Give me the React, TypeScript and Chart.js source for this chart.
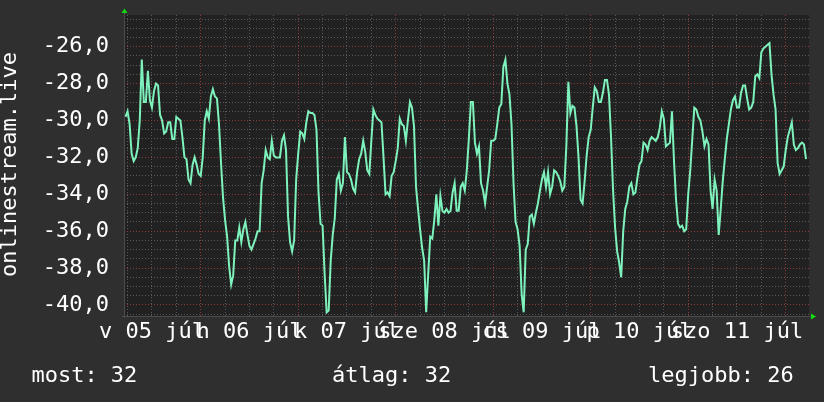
import React, { useEffect, useRef } from "react";
import { Chart, registerables } from "chart.js";

Chart.register(...registerables);

// Samples every 30 minutes, hours counted from 05 júl 00:00
const startHour = 5.5;
const stepHours = 0.5;
const values = [
  -29.8, -29.5, -30.2, -31.8, -32.2, -32.0, -31.5, -30.0, -26.7, -29.0,
  -29.0, -27.3, -28.9, -29.3, -28.4, -28.0, -28.1, -29.7, -30.0, -30.7,
  -30.6, -30.1, -30.1, -31.0, -31.0, -29.8, -29.9, -30.0, -30.9, -32.0,
  -32.1, -33.2, -33.4, -32.4, -32.0, -32.4, -32.9, -33.0, -32.0, -30.0,
  -29.5, -29.9, -28.7, -28.3, -28.7, -28.8, -30.2, -32.3, -34.2, -35.4,
  -36.3, -37.9, -38.9, -38.4, -36.5, -36.5, -35.8, -36.6, -35.9, -35.5,
  -36.2, -36.8, -37.0, -36.7, -36.4, -36.0, -36.0, -33.4, -32.7, -31.6,
  -32.0, -32.1, -31.1, -31.9, -32.0, -32.0, -32.0, -31.1, -30.8, -31.6,
  -35.2, -36.6, -37.1, -36.5, -33.2, -31.8, -30.6, -30.7, -31.0, -30.1,
  -29.5, -29.6, -29.6, -29.7, -30.5, -33.9, -35.6, -35.7, -38.3, -40.4,
  -40.3, -37.6, -36.2, -35.3, -33.2, -32.9, -33.8, -33.4, -30.9, -32.8,
  -32.9, -33.2, -33.7, -33.9, -32.8, -32.1, -31.8, -31.1, -31.7, -32.7,
  -32.9, -31.1, -29.4, -29.7, -29.9, -30.0, -30.1, -32.0, -34.0, -33.9,
  -34.1, -33.0, -32.8, -32.2, -31.5, -29.9, -30.2, -30.3, -31.1, -30.0,
  -29.0, -29.3, -30.3, -33.6, -34.8, -35.9, -36.9, -37.6, -40.4, -38.3,
  -36.3, -36.4, -35.4, -34.0, -35.7, -34.1, -34.9, -35.0, -34.8, -35.0,
  -34.9, -33.9, -33.4, -34.9, -34.9, -33.6, -33.4, -33.8, -32.7, -31.0,
  -29.0, -29.0, -31.2, -31.8, -31.4, -33.4, -33.8, -34.5, -33.6, -32.7,
  -31.1, -31.1, -31.0, -30.2, -29.3, -29.1, -27.1, -26.7, -28.0, -28.6,
  -30.2, -33.4, -35.5, -35.9, -36.8, -39.4, -40.4, -37.0, -36.7, -35.2,
  -35.1, -35.6, -35.0, -34.5, -33.8, -33.2, -32.8, -33.6, -32.8, -34.0,
  -33.6, -32.7, -32.8, -33.0, -33.3, -33.8, -33.6, -31.4, -27.9, -29.6,
  -29.2, -29.3, -30.3, -32.0, -34.3, -34.5, -33.3, -31.9, -30.9, -30.5,
  -29.3, -28.2, -28.4, -29.0, -29.0, -28.5, -27.8, -27.8, -28.6, -30.9,
  -33.8, -35.8, -37.1, -37.7, -38.5, -36.0, -34.8, -34.4, -33.6, -33.4,
  -34.0, -33.9, -33.1, -32.4, -32.2, -31.2, -31.3, -31.6, -31.1, -30.9,
  -31.0, -31.1, -30.9, -30.4, -29.5, -29.9, -31.4, -31.3, -31.2, -29.5,
  -32.2, -34.3, -35.6, -35.8, -35.7, -36.0, -35.9, -34.0, -32.7, -31.0,
  -29.3, -29.4, -29.8, -30.0, -30.6, -31.4, -31.0, -31.3, -33.8, -34.8,
  -33.2, -33.8, -36.2, -34.8, -33.3, -32.1, -31.0, -30.2, -29.4, -28.9,
  -28.7, -29.3, -29.3, -28.5, -28.1, -28.1, -28.8, -29.4, -29.3, -29.0,
  -27.6, -27.5, -27.7, -26.3, -26.1, -26.0, -25.9, -25.8, -27.5, -28.6,
  -29.4, -32.3, -32.9, -32.7, -32.5, -31.6, -30.9, -30.5, -30.1, -31.3,
  -31.6, -31.5, -31.3, -31.2, -31.3, -32.1,
];

const dayLabels = ["v 05 júl", "h 06 júl", "k 07 júl", "sze 08 júl", "cs 09 júl", "p 10 júl", "szo 11 júl"];
const dayLabelHours = [12, 36, 60, 84, 108, 132, 156];
const xGridHours = [6, 12, 18, 24, 30, 36, 42, 48, 54, 60, 66, 72, 78, 84, 90, 96, 102, 108, 114, 120, 126, 132, 138, 144, 150, 156, 162, 168];
const xMajorHours = [24, 48, 72, 96, 120, 144, 168];

const yMajorTicks = [-40, -38, -36, -34, -32, -30, -28, -26];
const yTickLabels = ["-40,0", "-38,0", "-36,0", "-34,0", "-32,0", "-30,0", "-28,0", "-26,0"];
const yMinorStep = 0.5;

const axisTitle = "onlinestream.live";
const legendItems = ["most: 32", "átlag: 32", "legjobb: 26"];

const X_MIN = 5.12;
const X_MAX = 173.73;
const Y_MIN = -40.6;
const Y_MAX = -24.28;

const FONT = '"DejaVu Sans Mono", monospace';
const OUTER_BG = "#2f2f2f";
const PLOT_BG = "#212121";
const LINE = "#7ef2bc";
const GRID_MINOR = "#595959";
const GRID_MAJOR = "#8a3b3b";
const AXIS = "#4c4c4c";
const ARROW = "#11dd11";

const isMajorY = (v: number) => yMajorTicks.some((t) => Math.abs(t - v) < 1e-6);
const isMajorX = (v: number) => xMajorHours.some((t) => Math.abs(t - v) < 1e-6);

const zeroPad = (scale: any) => {
  scale.paddingTop = 0;
  scale.paddingBottom = 0;
  scale.paddingLeft = 0;
  scale.paddingRight = 0;
};

const rrdPlugin = {
  id: "rrdLook",
  beforeDraw(chart: any) {
    const { ctx, chartArea: a, width, height } = chart;
    ctx.save();
    ctx.fillStyle = OUTER_BG;
    ctx.fillRect(0, 0, width, height);
    ctx.fillStyle = PLOT_BG;
    ctx.fillRect(a.left, a.top, a.right - a.left, a.bottom - a.top);
    ctx.restore();
  },
  afterDraw(chart: any) {
    const { ctx, chartArea: a } = chart;
    ctx.save();
    ctx.strokeStyle = AXIS;
    ctx.lineWidth = 1;
    ctx.beginPath();
    ctx.moveTo(a.left + 0.5, a.bottom + 2);
    ctx.lineTo(a.left + 0.5, a.top - 3);
    ctx.moveTo(a.left - 2, a.bottom + 0.5);
    ctx.lineTo(a.right + 3, a.bottom + 0.5);
    ctx.stroke();
    ctx.fillStyle = ARROW;
    ctx.beginPath();
    ctx.moveTo(a.left + 0.5, a.top - 6.5);
    ctx.lineTo(a.left - 2.5, a.top - 2);
    ctx.lineTo(a.left + 3.5, a.top - 2);
    ctx.closePath();
    ctx.fill();
    ctx.beginPath();
    ctx.moveTo(a.right + 7, a.bottom + 0.5);
    ctx.lineTo(a.right + 2, a.bottom - 2.5);
    ctx.lineTo(a.right + 2, a.bottom + 3.5);
    ctx.closePath();
    ctx.fill();
    ctx.fillStyle = "#ffffff";
    ctx.font = `22px ${FONT}`;
    ctx.save();
    ctx.translate(10.7, (a.top + a.bottom) / 2 - 1);
    ctx.rotate(-Math.PI / 2);
    ctx.textAlign = "center";
    ctx.textBaseline = "middle";
    ctx.fillText(axisTitle, 0, 0);
    ctx.restore();
    ctx.textAlign = "left";
    ctx.textBaseline = "alphabetic";
    const xs = [31.4, 332, 648];
    legendItems.forEach((t, i) => ctx.fillText(t, xs[i], 381.5));
    ctx.restore();
  },
};

export default function App() {
  const ref = useRef<HTMLCanvasElement>(null);
  useEffect(() => {
    document.body.style.margin = "0";
    const canvas = ref.current;
    if (!canvas) return;
    const points = values.map((v, i) => ({ x: startHour + stepHours * i, y: v }));
    const chart = new Chart(canvas, {
      type: "line",
      data: {
        datasets: [
          {
            data: points,
            borderColor: LINE,
            borderWidth: 2,
            pointRadius: 0,
            tension: 0,
            fill: false,
          },
        ],
      },
      options: {
        animation: false,
        responsive: false,
        devicePixelRatio: 1,
        parsing: false as any,
        layout: { padding: { left: 0, top: 15, right: 15, bottom: 0 } },
        plugins: {
          legend: { display: false },
          tooltip: { enabled: false },
          title: { display: false },
        },
        scales: {
          x: {
            type: "linear",
            min: X_MIN,
            max: X_MAX,
            afterBuildTicks(scale: any) {
              scale.ticks = xGridHours.map((v) => ({ value: v }));
            },
            afterFit(scale: any) {
              scale.height = 86;
              zeroPad(scale);
            },
            grid: {
              drawTicks: false,
              lineWidth: 1,
              color: (c: any) => (c.tick && isMajorX(c.tick.value) ? GRID_MAJOR : GRID_MINOR),
            },
            border: { display: false, dash: [1, 2] },
            ticks: {
              autoSkip: false,
              maxRotation: 0,
              minRotation: 0,
              padding: 3,
              color: "#ffffff",
              font: { family: FONT, size: 22, lineHeight: 1.2 },
              callback: (v: any) => {
                const k = dayLabelHours.indexOf(Number(v));
                return k >= 0 ? dayLabels[k] : "";
              },
            },
          },
          y: {
            type: "linear",
            min: Y_MIN,
            max: Y_MAX,
            afterBuildTicks(scale: any) {
              const t: any[] = [];
              for (let v = yMajorTicks[0] - yMinorStep; v <= Y_MAX + 1e-9; v += yMinorStep) {
                t.push({ value: Math.round(v * 10) / 10 });
              }
              scale.ticks = t;
            },
            afterFit(scale: any) {
              scale.width = 124;
              zeroPad(scale);
            },
            grid: {
              drawTicks: false,
              lineWidth: 1,
              color: (c: any) => (c.tick && isMajorY(c.tick.value) ? GRID_MAJOR : GRID_MINOR),
            },
            border: { display: false, dash: [1, 2] },
            ticks: {
              autoSkip: false,
              padding: 15,
              color: "#ffffff",
              font: { family: FONT, size: 22, lineHeight: 1.2 },
              callback: (v: any) => {
                const k = yMajorTicks.findIndex((t) => Math.abs(t - Number(v)) < 1e-6);
                return k >= 0 ? yTickLabels[k] : "";
              },
            },
          },
        },
      },
      plugins: [rrdPlugin],
    });
    return () => chart.destroy();
  }, []);
  return (
    <div style={{ width: 824, height: 402 }}>
      <canvas ref={ref} width={824} height={402} style={{ display: "block", width: 824, height: 402 }} />
    </div>
  );
}
